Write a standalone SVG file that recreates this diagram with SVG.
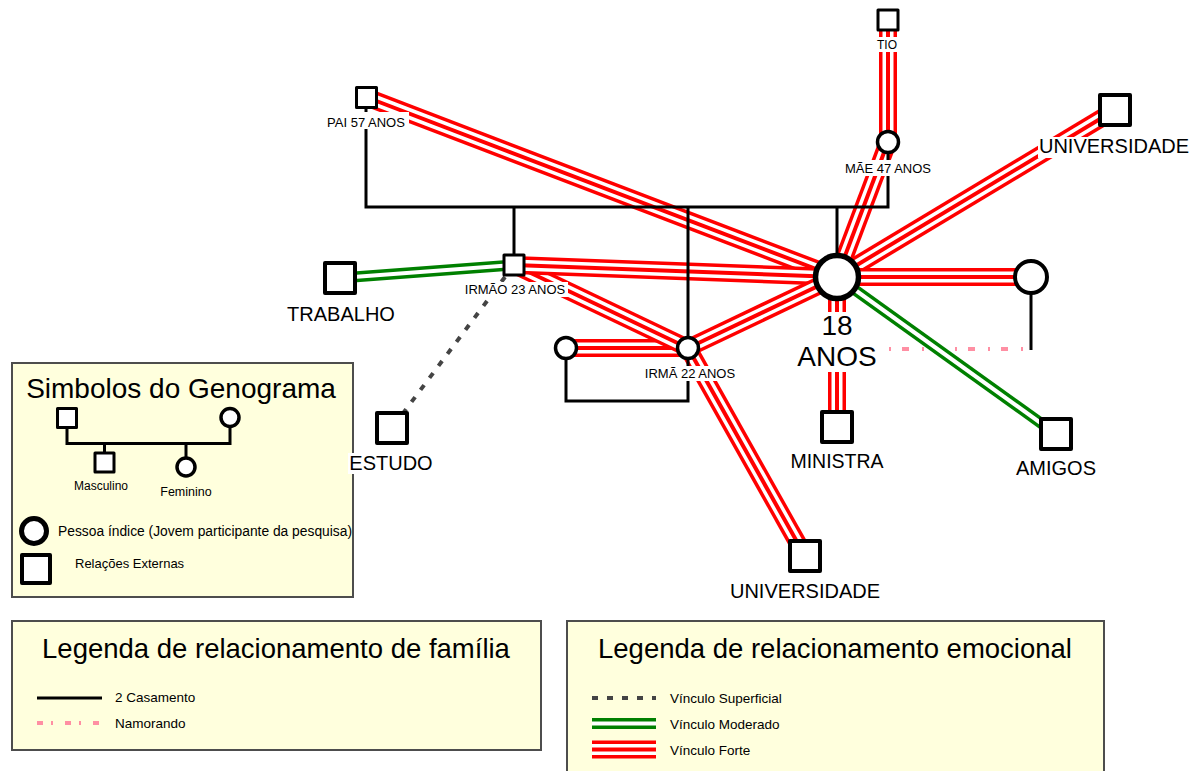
<svg xmlns="http://www.w3.org/2000/svg" xmlns:xlink="http://www.w3.org/1999/xlink" width="1200" height="771" viewBox="0 0 1200 771">
  <style>
    .t { font-family: "Liberation Sans", Arial, sans-serif; fill: #000; }
    .mid { text-anchor: middle; }
    .box { fill: #FFFFDD; stroke: #4d4d4d; stroke-width: 2; }
    .r1 { stroke: #FF0000; stroke-width: 18; }
    .r2 { stroke: #FFFFFF; stroke-width: 11; }
    .r3 { stroke: #FF0000; stroke-width: 4; }
    .g1 { stroke: #008000; stroke-width: 11; }
    .g2 { stroke: #FFFFFF; stroke-width: 4; }
    .sup { stroke: #444444; stroke-width: 4; stroke-dasharray: 6 9; fill: none; }
    .fam { stroke: #000; stroke-width: 3; fill: none; }
    .nam { stroke: #FF8FA3; stroke-width: 4; fill: none; }
    .sq { fill: #fff; stroke: #000; stroke-width: 3; stroke-linejoin: round; }
    .sqb { fill: #fff; stroke: #000; stroke-width: 4; stroke-linejoin: round; }
    .ci { fill: #fff; stroke: #000; stroke-width: 3.5; }
    .lbg { fill: #fff; }
  </style>
  <defs>
    <!-- emotional links, drawn three times (outer red / white gap / centre red) -->
    <line id="e-pai" x1="366" y1="97" x2="837" y2="277"/>
    <line id="e-tio" x1="888" y1="20" x2="888" y2="142"/>
    <line id="e-mae" x1="888" y1="142" x2="837" y2="277"/>
    <line id="e-uni1" x1="1115" y1="110" x2="837" y2="277"/>
    <line id="e-irmao" x1="514" y1="265" x2="837" y2="277"/>
    <line id="e-irmao-irma" x1="514" y1="265" x2="688" y2="348"/>
    <line id="e-irma" x1="688" y1="348" x2="837" y2="277"/>
    <line id="e-cunhado" x1="566" y1="348" x2="688" y2="348"/>
    <line id="e-uni2" x1="688" y1="348" x2="805" y2="556"/>
    <line id="e-namorada" x1="837" y1="277" x2="1031" y2="277"/>
    <line id="e-ministra" x1="837" y1="277" x2="837" y2="427"/>
    <line id="e-trabalho" x1="340" y1="278" x2="514" y2="265"/>
    <line id="e-amigos" x1="837" y1="277" x2="1056" y2="434"/>
    <line id="lg-mod" x1="592" y1="723.5" x2="656" y2="723.5"/>
    <line id="lg-forte" x1="592" y1="749.5" x2="656" y2="749.5"/>
  </defs>

  <!-- legend: genogram symbols -->
  <g id="legend-simbolos">
    <rect class="box" x="12" y="363" width="341" height="234"/>
    <text class="t mid" x="181" y="398" font-size="28">Simbolos do Genograma</text>
    <path class="fam" d="M67,428 V443.5 H230 V428 M104.5,443.5 V452 M186,443.5 V457"/>
    <rect class="sq" x="57.5" y="408.5" width="19" height="19"/>
    <circle class="ci" cx="230" cy="417.5" r="9"/>
    <rect class="sq" x="95" y="453" width="19" height="19"/>
    <circle class="ci" cx="186" cy="467" r="9"/>
    <text class="t mid" x="101" y="490" font-size="12">Masculino</text>
    <text class="t mid" x="186" y="496" font-size="12.5">Feminino</text>
    <circle cx="34" cy="531" r="12.5" fill="#fff" stroke="#000" stroke-width="5"/>
    <text class="t" x="58" y="536" font-size="14" textLength="294" lengthAdjust="spacingAndGlyphs">Pessoa índice (Jovem participante da pesquisa)</text>
    <rect class="sqb" x="22" y="555" width="28" height="28"/>
    <text class="t" x="75" y="568" font-size="13">Relações Externas</text>
  </g>

  <!-- legend: family relationships -->
  <g id="legend-familia">
    <rect class="box" x="12" y="621" width="529" height="129"/>
    <text class="t mid" x="276" y="658" font-size="27.5">Legenda de relacionamento de família</text>
    <line class="fam" x1="37" y1="698" x2="102" y2="698"/>
    <text class="t" x="115" y="702" font-size="13.5">2 Casamento</text>
    <line class="nam" x1="37" y1="723" x2="102" y2="723" stroke-dasharray="6 8 2 12"/>
    <text class="t" x="115" y="728" font-size="13.5">Namorando</text>
  </g>

  <!-- legend: emotional relationships -->
  <g id="legend-emocional">
    <rect class="box" x="567" y="621" width="537" height="160"/>
    <text class="t mid" x="835" y="658" font-size="27.5">Legenda de relacionamento emocional</text>
    <line class="sup" x1="592" y1="698" x2="656" y2="698" stroke-dasharray="5 10"/>
    <text class="t" x="670" y="703" font-size="13.5">Vínculo Superficial</text>
    <use xlink:href="#lg-mod" class="g1"/><use xlink:href="#lg-mod" class="g2"/>
    <text class="t" x="670" y="729" font-size="13.5">Vínculo Moderado</text>
    <use xlink:href="#lg-forte" class="r1"/><use xlink:href="#lg-forte" class="r2"/><use xlink:href="#lg-forte" class="r3"/>
    <text class="t" x="670" y="755" font-size="13.5">Vínculo Forte</text>
  </g>

  <!-- connectors -->
  <g id="connectors">
    <g id="emotional">
      <line class="sup" x1="514" y1="265" x2="392" y2="428"/>
      <use xlink:href="#e-trabalho" class="g1"/><use xlink:href="#e-trabalho" class="g2"/>
      <use xlink:href="#e-uni2" class="r1"/><use xlink:href="#e-uni2" class="r2"/><use xlink:href="#e-uni2" class="r3"/>
      <use xlink:href="#e-cunhado" class="r1"/><use xlink:href="#e-cunhado" class="r2"/><use xlink:href="#e-cunhado" class="r3"/>
      <use xlink:href="#e-ministra" class="r1"/><use xlink:href="#e-ministra" class="r2"/><use xlink:href="#e-ministra" class="r3"/>
      <use xlink:href="#e-pai" class="r1"/><use xlink:href="#e-pai" class="r2"/><use xlink:href="#e-pai" class="r3"/>
      <use xlink:href="#e-irmao-irma" class="r1"/><use xlink:href="#e-irmao-irma" class="r2"/><use xlink:href="#e-irmao-irma" class="r3"/>
      <use xlink:href="#e-irmao" class="r1"/><use xlink:href="#e-irmao" class="r2"/><use xlink:href="#e-irmao" class="r3"/>
      <use xlink:href="#e-irma" class="r1"/><use xlink:href="#e-irma" class="r2"/><use xlink:href="#e-irma" class="r3"/>
      <use xlink:href="#e-tio" class="r1"/><use xlink:href="#e-tio" class="r2"/><use xlink:href="#e-tio" class="r3"/>
      <use xlink:href="#e-mae" class="r1"/><use xlink:href="#e-mae" class="r2"/><use xlink:href="#e-mae" class="r3"/>
      <use xlink:href="#e-uni1" class="r1"/><use xlink:href="#e-uni1" class="r2"/><use xlink:href="#e-uni1" class="r3"/>
      <use xlink:href="#e-namorada" class="r1"/><use xlink:href="#e-namorada" class="r2"/><use xlink:href="#e-namorada" class="r3"/>
    </g>
    <g id="family">
      <path class="fam" d="M366,107 V207 H888 V152"/>
      <path class="fam" d="M514,207 V256"/>
      <path class="fam" d="M688,207 V338"/>
      <path class="fam" d="M837,207 V257"/>
      <path class="fam" d="M566,358 V401 H688 V358"/>
      <path class="fam" d="M1031,293 V350"/>
      <line class="nam" x1="889" y1="349" x2="1029" y2="349" stroke-dasharray="2 11 7 13"/>
    </g>
  </g>

  <!-- people and external relations -->
  <g id="pai">
    <rect class="sq" x="356.5" y="87.5" width="20" height="20"/>
    <rect class="lbg" x="324" y="112" width="85" height="17"/>
    <text class="t mid" x="366" y="127" font-size="13">PAI 57 ANOS</text>
  </g>
  <g id="tio">
    <rect class="sq" x="878" y="10" width="20" height="20"/>
    <rect class="lbg" x="875" y="37" width="25" height="15"/>
    <text class="t mid" x="887" y="49" font-size="12">TIO</text>
  </g>
  <g id="mae">
    <circle class="ci" cx="888" cy="142" r="10.5"/>
    <rect class="lbg" x="842" y="160" width="92" height="16"/>
    <text class="t mid" x="888" y="173" font-size="13">MÃE 47 ANOS</text>
  </g>
  <g id="universidade-1">
    <rect class="sqb" x="1100" y="95" width="30" height="30"/>
    <rect class="lbg" x="1038" y="137" width="152" height="21"/>
    <text class="t mid" x="1114" y="153" font-size="20">UNIVERSIDADE</text>
  </g>
  <g id="trabalho">
    <rect class="sqb" x="325" y="263" width="30" height="30"/>
    <rect class="lbg" x="285" y="304" width="112" height="21"/>
    <text class="t mid" x="341" y="321" font-size="20">TRABALHO</text>
  </g>
  <g id="irmao">
    <rect class="sq" x="504" y="255" width="20" height="20"/>
    <rect class="lbg" x="462" y="282" width="106" height="15"/>
    <text class="t mid" x="515" y="294" font-size="13">IRMÃO 23 ANOS</text>
  </g>
  <g id="cunhado">
    <circle class="ci" cx="566" cy="348" r="10.5"/>
  </g>
  <g id="irma">
    <circle class="ci" cx="688" cy="348" r="10.5"/>
    <rect class="lbg" x="642" y="366" width="96" height="15"/>
    <text class="t mid" x="690" y="378" font-size="13">IRMÃ  22 ANOS</text>
  </g>
  <g id="estudo">
    <rect class="sqb" x="377" y="413" width="30" height="30"/>
    <rect class="lbg" x="348" y="453" width="87" height="21"/>
    <text class="t mid" x="391" y="470" font-size="20">ESTUDO</text>
  </g>
  <g id="amigos-link">
    <use xlink:href="#e-amigos" class="g1"/><use xlink:href="#e-amigos" class="g2"/>
  </g>
  <g id="jovem">
    <circle cx="837" cy="277" r="21.5" fill="#fff" stroke="#000" stroke-width="5.5"/>
    <rect class="lbg" x="818" y="312" width="39" height="28"/>
    <rect class="lbg" x="793" y="340" width="92" height="32"/>
    <text class="t mid" x="837" y="335" font-size="28">18</text>
    <text class="t mid" x="837" y="366" font-size="28">ANOS</text>
  </g>
  <g id="namorada">
    <circle cx="1031" cy="277" r="16" fill="#fff" stroke="#000" stroke-width="4"/>
  </g>
  <g id="ministra">
    <rect class="sqb" x="822" y="412" width="30" height="30"/>
    <rect class="lbg" x="789" y="452" width="96" height="21"/>
    <text class="t mid" x="837" y="468" font-size="19.5">MINISTRA</text>
  </g>
  <g id="amigos">
    <rect class="sqb" x="1041" y="419" width="30" height="30"/>
    <rect class="lbg" x="1014" y="459" width="84" height="21"/>
    <text class="t mid" x="1056" y="475" font-size="20">AMIGOS</text>
  </g>
  <g id="universidade-2">
    <rect class="sqb" x="790" y="541" width="30" height="30"/>
    <rect class="lbg" x="727" y="582" width="156" height="21"/>
    <text class="t mid" x="805" y="598" font-size="20">UNIVERSIDADE</text>
  </g>
</svg>
